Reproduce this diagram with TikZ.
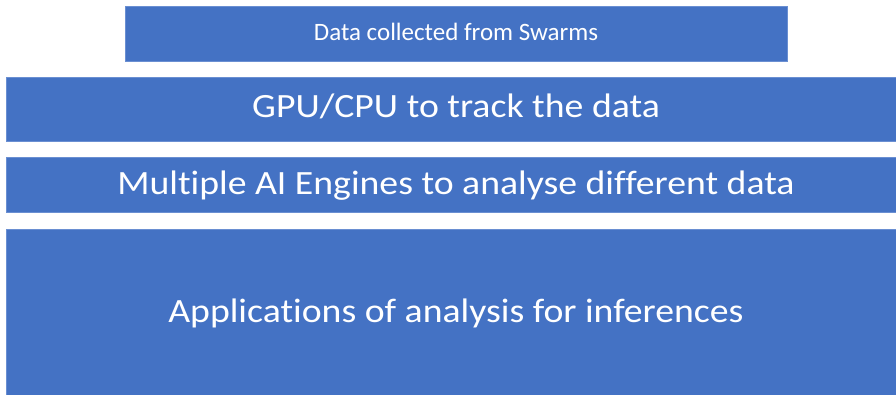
\documentclass[tikz,border=0pt]{standalone}
\usepackage{fontspec}
\setmainfont{Carlito}[Ligatures=NoCommon]
\definecolor{layerblue}{HTML}{4472C4}
\definecolor{layeredge}{HTML}{6A8FD2}
\tikzset{
  layer/.style={fill=layerblue, draw=layeredge, line width=0.6pt},
  layertext/.style={text=white, inner sep=0pt, anchor=base}
}
\begin{document}
\begin{tikzpicture}[x=1pt,y=-1pt]
		\useasboundingbox (0,0) rectangle (896,395);
		% one bar per layer: name / corners / font size / stretch / baseline / label
		\foreach \n/\xa/\ya/\xb/\yb/\fs/\sx/\bl/\t in {%
			swarm/125/6.5/787/61/25/1/41/{Data collected from Swarms},%
			track/6.5/77.5/900/141/34/1.11/117.7/{GPU/CPU to track the data},%
			engines/6.5/157.5/900/212/34/1.11/195/{Multiple AI Engines to analyse different data},%
			apps/6.5/229.5/900/397/34/1.11/322.7/{Applications of analysis for inferences}%
		}{
			\draw[layer] (\xa,\ya) rectangle (\xb,\yb);
			\node[layertext, font=\fontsize{\fs}{\fs}\selectfont] (\n) at (456,\bl) {\scalebox{\sx}[1]{\t}};
		}
	\end{tikzpicture}
\end{document}
